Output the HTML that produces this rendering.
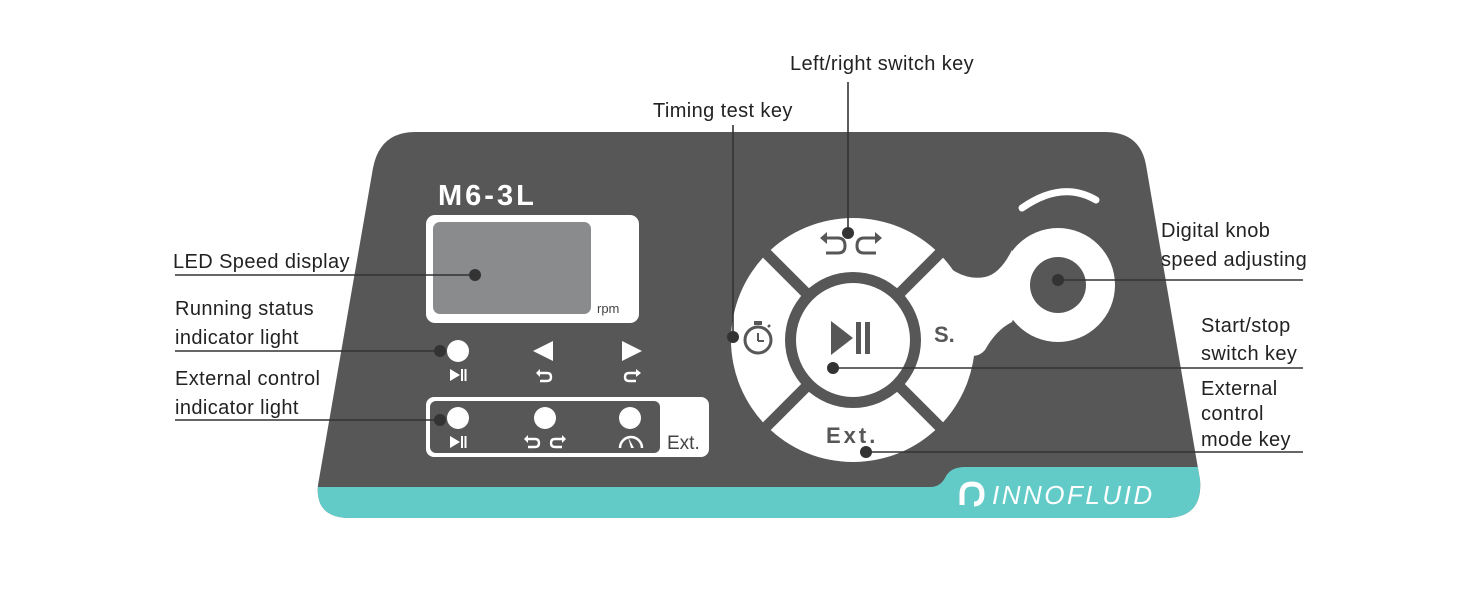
<!DOCTYPE html>
<html><head><meta charset="utf-8"><style>
html,body{margin:0;padding:0;background:#fff;}
svg{display:block;font-family:"Liberation Sans",sans-serif;}
</style></head><body>
<svg width="1484" height="601" viewBox="0 0 1484 601" xmlns="http://www.w3.org/2000/svg">
<defs><clipPath id="pc"><path d="M415,132 L1105,132 Q1140,132 1146,165 L1200,480 Q1203,518 1165,518 L350,518 Q315,518 318,485 L373,168 Q380,132 415,132 Z"/></clipPath></defs>
<g clip-path="url(#pc)">
<rect x="300" y="120" width="920" height="410" fill="#575757"/>
<path d="M300,487 L930,487 Q940,487 945,478 Q950,467 965,467 L1220,467 L1220,530 L300,530 Z" fill="#62cbc8"/>
</g>
<!-- display -->
<text x="438" y="205" font-size="29" font-weight="bold" fill="#fff" letter-spacing="3">M6-3L</text>
<rect x="426" y="215" width="213" height="108" rx="9" fill="#fff"/>
<rect x="433" y="222" width="158" height="92" rx="7" fill="#8a8b8d"/>
<text x="597" y="313" font-size="13" fill="#444">rpm</text>
<!-- indicators -->
<circle cx="458" cy="351" r="11" fill="#fff"/>
<path d="M553,341 L553,361 L533,351 Z" fill="#fff"/>
<path d="M622,341 L622,361 L642,351 Z" fill="#fff"/>
<path d="M450,369 L450,381 L460,375 Z" fill="#fff"/><rect x="461" y="369" width="2" height="12" fill="#fff"/><rect x="464.5" y="369" width="2" height="12" fill="#fff"/>
<path d="M538,373 L547,373 Q551,373 551,377 Q551,381 547,381 L540,381" stroke="#fff" stroke-width="2.4" fill="none"/><path d="M536,373 L540,369 L540,377 Z" fill="#fff"/>
<path d="M638,373 L629,373 Q625,373 625,377 Q625,381 629,381 L636,381" stroke="#fff" stroke-width="2.4" fill="none"/><path d="M641,373 L636,369 L636,377 Z" fill="#fff"/>
<!-- ext box -->
<rect x="426" y="397" width="283" height="60" rx="8" fill="#fff"/>
<rect x="430" y="401" width="230" height="52" rx="6" fill="#575757"/>
<circle cx="458" cy="418" r="11" fill="#fff"/><circle cx="545" cy="418" r="11" fill="#fff"/><circle cx="630" cy="418" r="11" fill="#fff"/>
<path d="M450,436 L450,448 L460,442 Z" fill="#fff"/><rect x="461" y="436" width="2" height="12" fill="#fff"/><rect x="464.5" y="436" width="2" height="12" fill="#fff"/>
<path d="M527,439 L535,439 Q539,439 539,443 Q539,447 535,447 L528,447" stroke="#fff" stroke-width="2.4" fill="none"/><path d="M524,439 L528,435 L528,443 Z" fill="#fff"/>
<path d="M563,439 L555,439 Q551,439 551,443 Q551,447 555,447 L562,447" stroke="#fff" stroke-width="2.4" fill="none"/><path d="M566,439 L562,435 L562,443 Z" fill="#fff"/>
<path d="M620,448 A11,11 0 0 1 642,448" stroke="#fff" stroke-width="2.5" fill="none"/><path d="M631,448 L628,437 L634,448 Z" fill="#fff"/>
<text x="667" y="449" font-size="19" fill="#444">Ext.</text>
<!-- knob lobe -->
<path d="M935,255 Q960,282 985,277 Q1000,274 1012,250 L1020,300 L1012,322 Q996,330 985,350 Q975,362 955,350 L935,345 Z" fill="#fff"/>
<circle cx="1058" cy="285" r="57" fill="#fff"/>
<circle cx="1058" cy="285" r="28" fill="#575757"/>
<path d="M1022,208 Q1062,180 1096,200" stroke="#fff" stroke-width="7" fill="none" stroke-linecap="round"/>
<!-- pad -->
<circle cx="853" cy="340" r="122" fill="#fff"/>
<g stroke="#575757" stroke-width="11">
<line x1="760" y1="247" x2="946" y2="433"/><line x1="946" y1="247" x2="760" y2="433"/>
</g>
<circle cx="853" cy="340" r="68" fill="#575757"/>
<circle cx="853" cy="340" r="57" fill="#fff"/>
<path d="M831,321 L831,355 L853,338 Z" fill="#575757"/><rect x="856" y="322" width="5" height="32" fill="#575757"/><rect x="865" y="322" width="5" height="32" fill="#575757"/>
<text x="934" y="342" font-size="22" font-weight="bold" fill="#575757">S.</text>
<text x="826" y="443" font-size="22" font-weight="bold" fill="#575757" letter-spacing="3">Ext.</text>
<!-- top key icon -->
<path d="M825,238 L838,238 Q845,238 845,246 Q845,253 838,253 L826,253" stroke="#575757" stroke-width="3" fill="none"/><path d="M820,238 L827,232 L827,244 Z" fill="#575757"/>
<path d="M877,238 L864,238 Q857,238 857,246 Q857,253 864,253 L876,253" stroke="#575757" stroke-width="3" fill="none"/><path d="M882,238 L875,232 L875,244 Z" fill="#575757"/>
<!-- timer -->
<circle cx="758" cy="340" r="13" stroke="#575757" stroke-width="3" fill="none"/>
<rect x="754" y="321" width="8" height="4" fill="#575757"/><line x1="758" y1="333" x2="758" y2="341" stroke="#575757" stroke-width="2"/><line x1="758" y1="341" x2="764" y2="341" stroke="#575757" stroke-width="2"/>
<line x1="768" y1="327" x2="770" y2="325" stroke="#575757" stroke-width="2.5"/>
<!-- callouts -->
<g stroke="#333" stroke-width="1.6">
<line x1="175" y1="275" x2="475" y2="275"/>
<line x1="175" y1="351" x2="440" y2="351"/>
<line x1="175" y1="420" x2="440" y2="420"/>
<line x1="733" y1="125" x2="733" y2="337"/>
<line x1="848" y1="82" x2="848" y2="233"/>
<line x1="1058" y1="280" x2="1303" y2="280"/>
<line x1="833" y1="368" x2="1303" y2="368"/>
<line x1="866" y1="452" x2="1303" y2="452"/>
</g>
<g fill="#333">
<circle cx="475" cy="275" r="6"/><circle cx="440" cy="351" r="6"/><circle cx="440" cy="420" r="6"/>
<circle cx="733" cy="337" r="6"/><circle cx="848" cy="233" r="6"/><circle cx="1058" cy="280" r="6"/>
<circle cx="833" cy="368" r="6"/><circle cx="866" cy="452" r="6"/>
</g>
<g font-size="20" fill="#222" letter-spacing="0.4">
<text x="173" y="268">LED Speed display</text>
<text x="175" y="315">Running status</text><text x="175" y="344">indicator light</text>
<text x="175" y="385">External control</text><text x="175" y="414">indicator light</text>
<text x="653" y="117">Timing test key</text>
<text x="790" y="70">Left/right switch key</text>
<text x="1161" y="237">Digital knob</text><text x="1161" y="266">speed adjusting</text>
<text x="1201" y="332">Start/stop</text><text x="1201" y="360">switch key</text>
<text x="1201" y="395">External</text><text x="1201" y="420">control</text><text x="1201" y="446">mode key</text>
</g>
<!-- logo -->
<path d="M962,505 L962,494 Q962,484 972,484 Q982,484 982,494 Q982,504 974,504" stroke="#fff" stroke-width="5" fill="none"/>
<text x="992" y="504" font-size="26" fill="#fff" font-style="italic" letter-spacing="2.5">INNOFLUID</text>
</svg>
</body></html>
